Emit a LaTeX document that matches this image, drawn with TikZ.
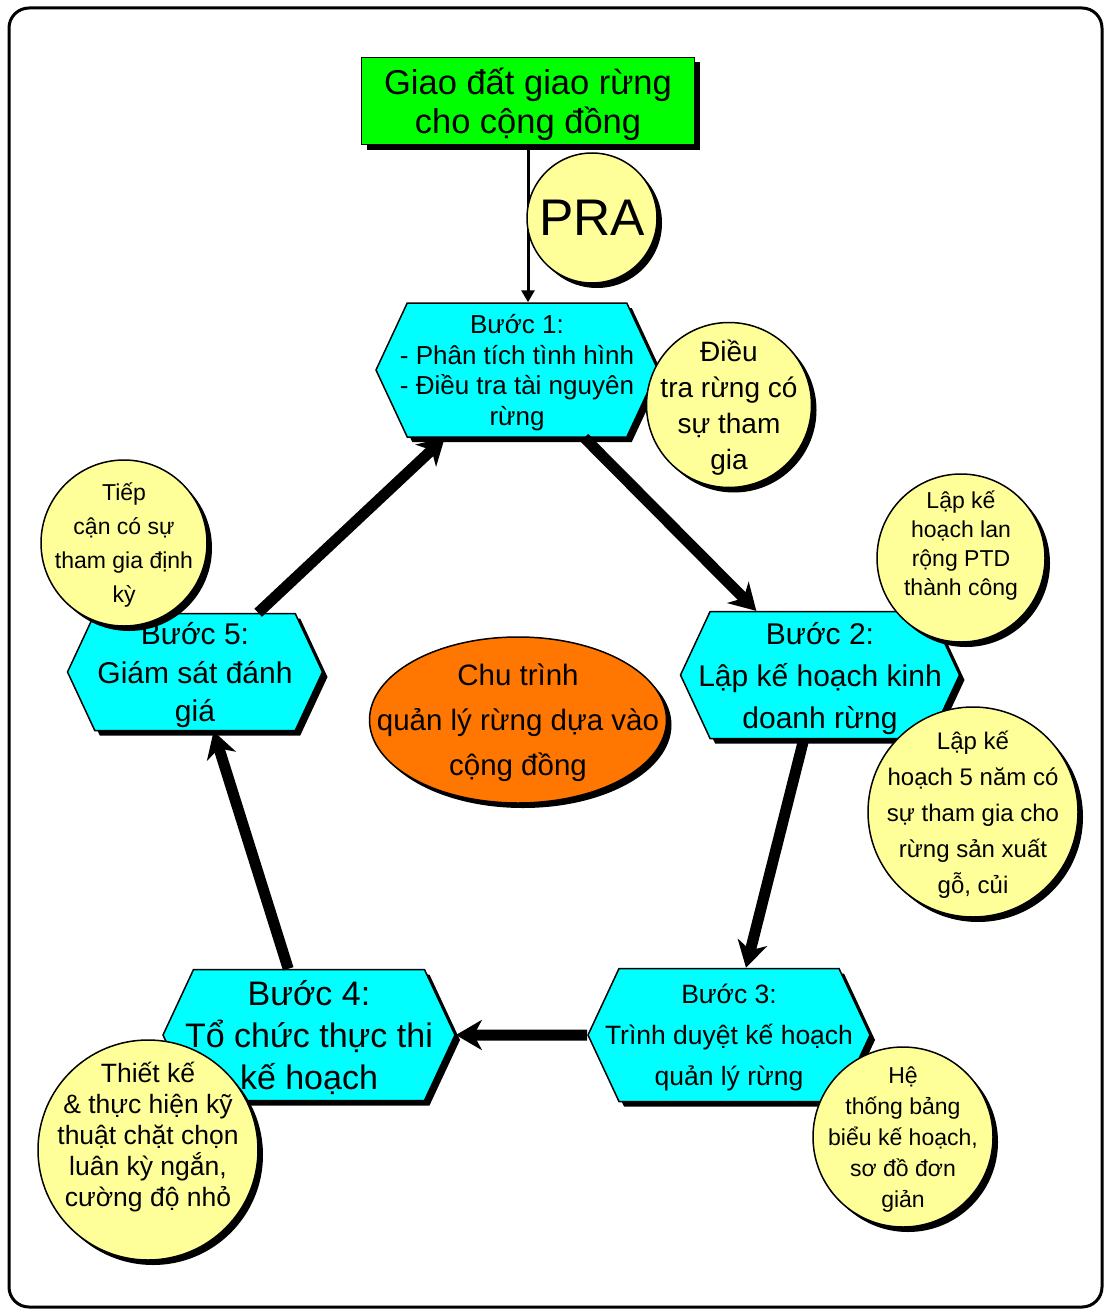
\documentclass[tikz,border=0pt]{standalone}
\usepackage{fontspec}
\setmainfont{Liberation Sans}
\usetikzlibrary{shapes.symbols,shapes.geometric,shadows,arrows.meta}

\definecolor{xanhla}{RGB}{0,255,0}
\definecolor{xanhlo}{RGB}{0,255,255}
\definecolor{vangnhat}{RGB}{255,255,153}
\definecolor{camdam}{RGB}{255,119,0}

\tikzset{
  bong/.style={drop shadow={shadow xshift=5pt,shadow yshift=-5pt,fill=black,opacity=1}},
  buoc/.style={shape=signal,signal to=west and east,signal pointer angle=130,
    draw=black,line width=1.5pt,fill=xanhlo,bong,align=center,inner sep=-30pt,text depth=0pt},
  ghichu/.style={circle,draw=black,line width=1.5pt,fill=vangnhat,bong,align=center,inner sep=-50pt,text depth=0pt},
  muiten/.style={line width=11pt,-{Stealth[length=26pt,width=30pt,inset=8pt]}},
}
\newcommand{\cochu}[2]{\fontsize{#1}{#2}\selectfont}

\begin{document}
\begin{tikzpicture}[x=1pt,y=-1pt]
\useasboundingbox (0,0) rectangle (1104,1311);
\draw [line width=3pt,rounded corners=20pt] (9,8) rectangle (1102,1307);

%% giao dat
\node (giao) [rectangle,draw=black,line width=1.5pt,fill=xanhla,bong,align=center,text depth=0pt,
  minimum width=333pt,minimum height=87pt,font=\cochu{34.5}{39}] at (528,101)
  {Giao đất giao rừng\\cho cộng đồng};

%% cac buoc
\node (b1) [buoc,minimum width=282pt,minimum height=134pt,font=\cochu{26}{30.5}] at (517,370)
  {Bước 1:\\- Phân tích tình hình\\- Điều tra tài nguyên\\rừng};
\node (b2) [buoc,minimum width=279pt,minimum height=127pt,font=\cochu{30}{42}] at (820,675)
  {Bước 2:\\Lập kế hoạch kinh\\doanh rừng};
\node (b3) [buoc,minimum width=282pt,minimum height=133pt,font=\cochu{26.5}{41}] at (729,1035)
  {Bước 3:\\Trình duyệt kế hoạch\\quản lý rừng};
\node (b4) [buoc,minimum width=292pt,minimum height=131pt,font=\cochu{34}{42}] at (309,1035)
  {Bước 4:\\Tổ chức thực thi\\kế hoạch};
\node (b5) [buoc,minimum width=255pt,minimum height=117pt,font=\cochu{30}{38.5}] at (195,672)
  {Bước 5:\\Giám sát đánh\\giá};

%% chu trinh
\node (chutrinh) [ellipse,draw=black,line width=1.5pt,fill=camdam,bong,align=center,inner sep=-60pt,
  text depth=0pt,minimum width=297pt,minimum height=166pt,font=\cochu{29.5}{45}] at (518,720)
  {Chu trình\\quản lý rừng dựa vào\\cộng đồng};

%% mui ten
\draw [muiten] (b1) -- (b2);
\draw [muiten] (b2) -- (b3);
\draw [muiten] (b3) -- (b4);
\draw [muiten] (b4) -- (b5);
\draw [muiten] (b5) -- (b1);
\draw [line width=3pt,-{Triangle[length=12pt,width=13pt]}] (giao.south) -- (giao.south |- b1.north);

%% ghi chu
\node (pra) [ghichu,minimum size=130pt,font=\cochu{51.5}{55}] at (592,218) {PRA};
\node (dieutra) [ghichu,minimum size=165pt,font=\cochu{28}{36}] at (729,405)
  {Điều\\tra rừng có\\sự tham\\gia};
\node (lanrong) [ghichu,minimum size=168pt,font=\cochu{23}{29}] at (961,558)
  {Lập kế\\hoạch lan\\rộng PTD\\thành công\\ \mbox{}};
\node (namnam) [ghichu,minimum size=210pt,font=\cochu{24}{36}] at (973,812)
  {Lập kế\\hoạch 5 năm có\\sự tham gia cho\\rừng sản xuất\\gỗ, củi};
\node (bangbieu) [ghichu,minimum size=180pt,font=\cochu{23}{31}] at (903,1137)
  {Hệ\\thống bảng\\biểu kế hoạch,\\sơ đồ đơn\\giản};
\node (thietke) [ghichu,minimum size=220pt,font=\cochu{26.5}{31}] at (148,1150)
  {Thiết kế\\\& thực hiện kỹ\\thuật chặt chọn\\luân kỳ ngắn,\\cường độ nhỏ\\ \mbox{}};
\node (tiepcan) [ghichu,minimum size=166pt,font=\cochu{23}{34}] at (124,543)
  {Tiếp\\cận có sự\\tham gia định\\kỳ};

\end{tikzpicture}
\end{document}
